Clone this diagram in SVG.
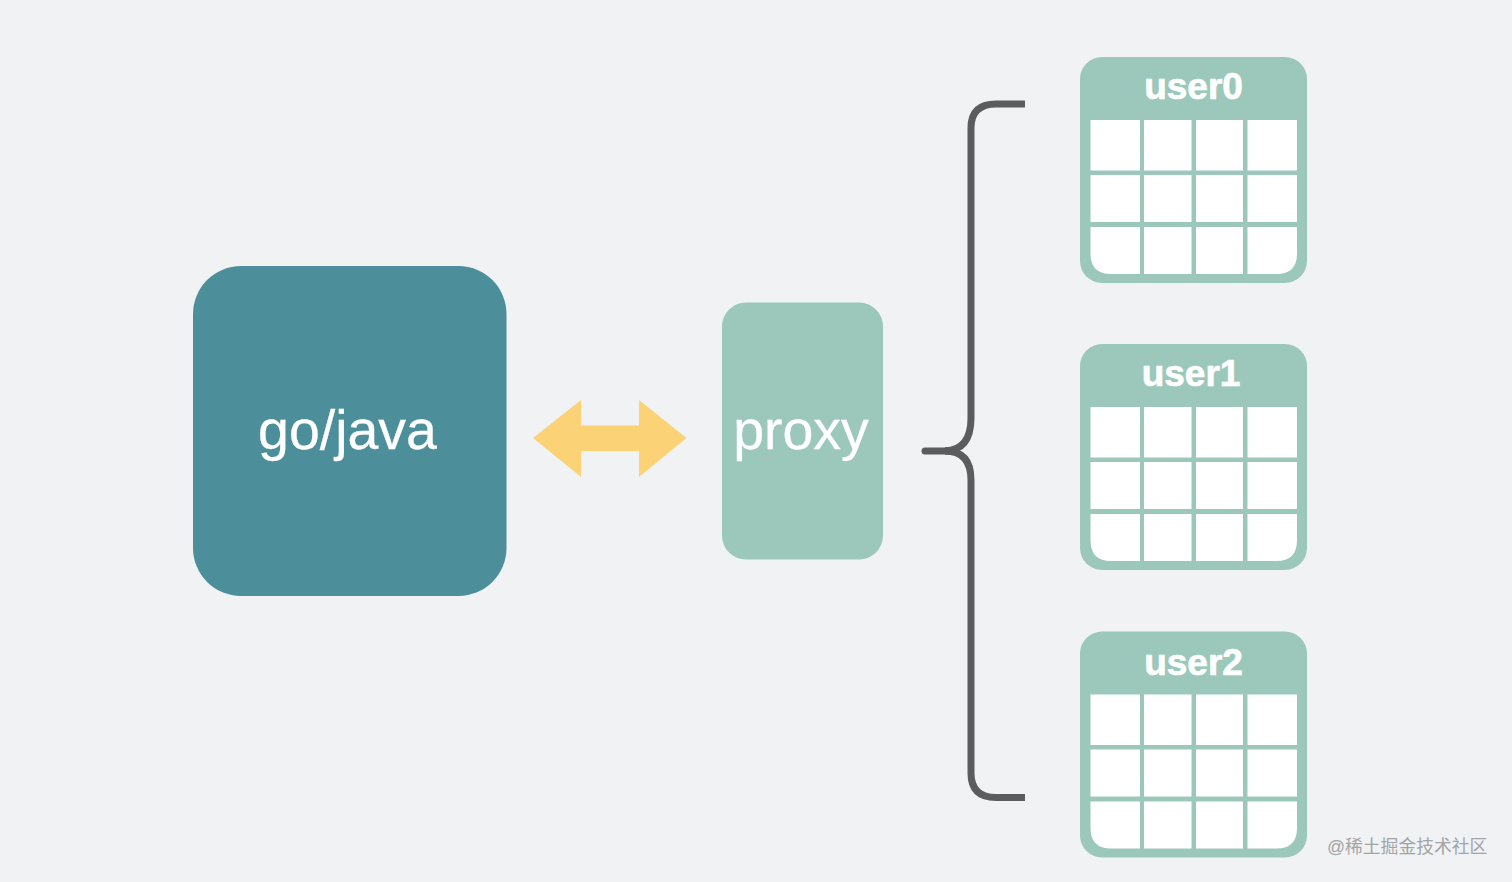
<svg xmlns="http://www.w3.org/2000/svg" width="1512" height="882" viewBox="0 0 1512 882">
<style>
.t{fill:#fff;font-family:"Liberation Sans",Arial,sans-serif;text-anchor:middle}
.big{font-size:55.5px;stroke:#fff;stroke-width:.3}
.hd{font-size:37px;font-weight:700;stroke:#fff;stroke-width:.7}
.c{fill:#fff}
.body{fill:#9cc8bb}
.br{fill:none;stroke:#5b5c5e;stroke-width:7;stroke-linecap:butt}
.wm{fill:#a2a4a6;font-size:17.800px;font-family:"Liberation Sans","Noto Sans CJK SC",sans-serif}
</style>
<defs>
<g id="table">
<rect class="body" x="0" y="0" width="227" height="226" rx="22"/>
<rect class="c" x="10.500" y="63" width="49.500" height="50.500"/>
<rect class="c" x="64" y="63" width="47.500" height="50.500"/>
<rect class="c" x="116" y="63" width="47" height="50.500"/>
<rect class="c" x="167.500" y="63" width="49.500" height="50.500"/>
<rect class="c" x="10.500" y="118" width="49.500" height="47"/>
<rect class="c" x="64" y="118" width="47.500" height="47"/>
<rect class="c" x="116" y="118" width="47" height="47"/>
<rect class="c" x="167.500" y="118" width="49.500" height="47"/>
<path class="c" d="M10.500 170H60V217H31Q10.500 217 10.500 196.500Z"/>
<rect class="c" x="64" y="170" width="47.500" height="47"/>
<rect class="c" x="116" y="170" width="47" height="47"/>
<path class="c" d="M167.500 170H217V196.500Q217 217 196.500 217H167.500Z"/>
</g>
</defs>
<rect id="background" width="1512" height="882" fill="#f0f2f4"/>
<g id="app">
<rect x="193" y="266" width="313.500" height="330" rx="48" fill="#4c8f9b"/>
<text class="t big" x="347.500" y="449">go/java</text>
</g>
<g id="proxy">
<rect x="722" y="302.500" width="161" height="257" rx="24" fill="#9cc8bb"/>
<text class="t big" x="801" y="449">proxy</text>
</g>
<g id="user0">
<use href="#table" x="1080" y="57"/>
<text class="t hd" x="1193.500" y="99">user0</text>
</g>
<g id="user1">
<use href="#table" x="1080" y="344"/>
<text class="t hd" x="1191" y="386">user1</text>
</g>
<g id="user2">
<use href="#table" x="1080" y="631.500"/>
<text class="t hd" x="1193.500" y="675">user2</text>
</g>
<g id="connectors">
<polygon points="533,438 581,400 581,425.500 639,425.500 639,400 686.500,438 639,477 639,451 581,451 581,477" fill="#fcd277"/>
<path class="br" d="M1025 104H996Q971 104 971 128V418Q971 450 945 451"/>
<path class="br" d="M1025 797.500H996Q971 797.500 971 773V480Q971 451 945 451"/>
<path class="br" d="M925 451H950" style="stroke-linecap:round"/>
</g>
<text id="watermark" class="wm" x="1327" y="853">@稀土掘金技术社区</text>
</svg>
